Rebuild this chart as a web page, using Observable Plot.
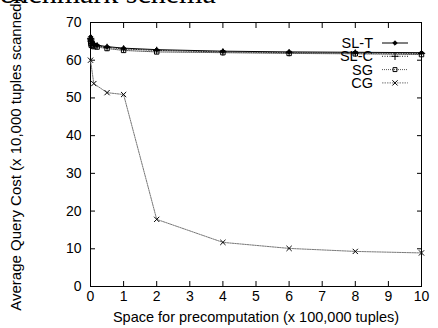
<!DOCTYPE html>
<html><head><meta charset="utf-8">
<script src="https://cdn.jsdelivr.net/npm/d3@7"></script>
<script src="https://cdn.jsdelivr.net/npm/@observablehq/plot@0.6"></script>
<style>
body{margin:0;background:#fff;}
#wrap{position:relative;width:438px;height:328px;overflow:hidden;background:#fff;}
#wrap svg{position:absolute;left:0;top:0;}
#title{position:absolute;z-index:5;left:-15px;top:-22px;font:30px/30px "Liberation Serif",serif;color:#000;white-space:nowrap;}
</style></head>
<body><div id="wrap"><div id="title">benchmark schema</div></div>
<script>
const series = ["SL-T", "SL-C", "SG", "CG"];
const xSLT = [0.005,0.01,0.02,0.05,0.1,0.2,0.5,1,2,4,6,8,10];
const ySLT = [66.2,65.8,65.3,64.8,64.3,64,63.6,63.2,62.8,62.4,62.2,62.1,62];
const xSLC = [0.005,0.01,0.02,0.05,0.1,0.2,0.5,1,2,4,6,8,10];
const ySLC = [65.8,65.4,65,64.5,64,63.8,63.4,63,62.6,62.2,62,61.9,61.8];
const xSG = [0.005,0.01,0.02,0.05,0.1,0.2,0.5,1,2,4,6,8,10];
const ySG = [65,64.5,64,63.8,63.6,63.5,63.1,62.6,62.2,62,61.8,61.7,61.5];
const xCG = [0,0.1,0.5,1,2,4,6,8,10];
const yCG = [60,53.8,51.4,50.9,17.8,11.7,10.1,9.3,8.9];
const xTicks = [0,1,2,3,4,5,6,7,8,9,10];
const yTicks = [0,10,20,30,40,50,60,70];

const styles = {
  "SL-T": {stroke:"#000", dash:null, symbol:"diamond2", r:2, fill:"#000"},
  "SL-C": {stroke:"#222", dash:"1,1.5", symbol:"plus", r:2.5, fill:"none"},
  "SG": {stroke:"#555", dash:"1,1", symbol:"square", r:2.5, fill:"none"},
  "CG": {stroke:"#777", dash:"1.5,1", symbol:"times", r:2.5, fill:"none"}
};
const xs = {"SL-T":xSLT,"SL-C":xSLC,"SG":xSG,"CG":xCG};
const ys = {"SL-T":ySLT,"SL-C":ySLC,"SG":ySG,"CG":yCG};
const tables = series.map(s => xs[s].map((x,i)=>({x, y: ys[s][i], s})));

const marks = [];
for (const [k, s] of series.entries()) {
  const st = styles[s];
  marks.push(Plot.line(tables[k], {x:"x", y:"y", stroke: st.stroke, strokeWidth:1, strokeDasharray: st.dash}));
}
for (const [k, s] of series.entries()) {
  const st = styles[s];
  marks.push(Plot.dot(tables[k], {x:"x", y:"y", symbol: st.symbol, r: st.r, stroke: "#000", fill: st.fill, strokeWidth:1}));
}

const chart = Plot.plot({
  width: 438, height: 328,
  marginLeft: 90, marginRight: 17, marginTop: 22, marginBottom: 42,
  style: {fontFamily: '"Liberation Sans", Arial, sans-serif', fontSize: "13px", color:"#000", background:"transparent"},
  x: {domain:[0,10]},
  y: {domain:[0,70]},
  marks: [
    Plot.frame({stroke:"#000", strokeWidth:1}),
    Plot.axisX(xTicks, {tickSize:-5, tickPadding:10, fontSize:14, label:"Space for precomputation (x 100,000 tuples)", labelAnchor:"center", labelArrow:"none", labelOffset:35}),
    Plot.axisX(xTicks, {anchor:"top", tickSize:-5, tickFormat:()=>"", label:null}),
    Plot.axisY(yTicks, {tickSize:-5, tickPadding:14, fontSize:14, label:"Average Query Cost (x 10,000 tuples scanned)", labelAnchor:"center", labelArrow:"none", labelOffset:80}),
    Plot.axisY(yTicks, {anchor:"right", tickSize:-5, tickFormat:()=>"", label:null}),
    ...marks
  ]
});
document.getElementById("wrap").appendChild(chart);
d3.select(chart).selectAll("g[aria-label='x-axis label'] text").style("font-size","14.5px");
d3.select(chart).selectAll("g[aria-label='y-axis label'] text").style("font-size","15px");

// legend overlay
const lg = d3.select("#wrap").append("svg").attr("width",438).attr("height",328)
  .style("font-family",'"Liberation Sans", Arial, sans-serif').style("font-size","14.5px");
const sym = {diamond2: d3.symbolDiamond2, plus: d3.symbolPlus, square: d3.symbolSquare2, times: d3.symbolTimes};
series.forEach((s,i)=>{
  const st = styles[s];
  const cy = 43 + i*13.3;
  lg.append("text").attr("x",373).attr("y",cy).attr("dy","0.35em").attr("text-anchor","end").text(s);
  lg.append("line").attr("x1",382).attr("x2",408).attr("y1",cy).attr("y2",cy)
    .attr("stroke",st.stroke).attr("stroke-dasharray",st.dash);
  const size = Math.PI*st.r*st.r;
  lg.append("path").attr("transform",`translate(395,${cy})`).attr("d", d3.symbol(sym[st.symbol], size)())
    .attr("stroke","#000").attr("fill",st.fill);
});
</script></body></html>
